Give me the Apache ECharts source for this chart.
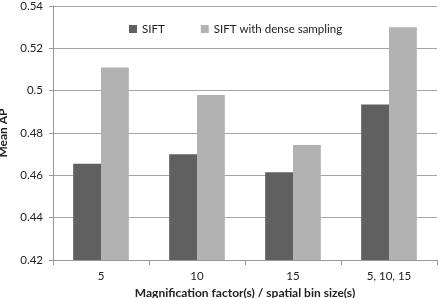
<!DOCTYPE html>
<html>
<head>
<meta charset="utf-8">
<script src="https://cdn.jsdelivr.net/npm/echarts@6/dist/echarts.min.js"></script>
<style>
  html, body { margin: 0; padding: 0; background: #fff; }
  #chart { width: 444px; height: 298px; }
</style>
</head>
<body>
<div id="chart"></div>
<script>
// values
const categories = ['5', '10', '15', '5, 10, 15']
const siftValues = [0.4655, 0.470, 0.4615, 0.4935]
const denseValues = [0.511, 0.498, 0.4743, 0.530]
const yTicks = [0.42, 0.44, 0.46, 0.48, 0.5, 0.52, 0.54]

const font = 'Lato, "Open Sans", sans-serif'
const chart = echarts.init(document.getElementById('chart'))

chart.setOption({
  animation: false,
  textStyle: { fontFamily: font },
  legend: {
    top: 18,
    left: 124,
    itemWidth: 8,
    itemHeight: 8,
    itemGap: 36,
    icon: 'rect',
    textStyle: { fontSize: 11.5, color: '#222', fontFamily: font },
    data: ['SIFT', 'SIFT with dense sampling']
  },
  grid: { left: 53, right: 7, top: 6, bottom: 38, outerBoundsMode: 'none', containLabel: false },
  xAxis: {
    type: 'category',
    data: categories,
    name: 'Magnification factor(s) / spatial bin size(s)',
    nameLocation: 'middle',
    nameGap: 27,
    nameTextStyle: { fontWeight: 'bold', fontSize: 12, color: '#222' },
    axisLine: { lineStyle: { color: '#999' } },
    axisTick: { show: true, length: 5, lineStyle: { color: '#999' } },
    axisLabel: { fontSize: 11.5, color: '#222', margin: 10 }
  },
  yAxis: {
    type: 'value',
    min: yTicks[0],
    max: yTicks[yTicks.length - 1],
    interval: 0.02,
    name: 'Mean AP',
    nameLocation: 'middle',
    nameGap: 44,
    nameTextStyle: { fontWeight: 'bold', fontSize: 12, color: '#222' },
    axisLine: { show: true, lineStyle: { color: '#999' } },
    axisTick: { show: true, length: 4, inside: false, lineStyle: { color: '#999' } },
    axisLabel: { fontSize: 11.5, color: '#222', margin: 10, formatter: v => String(+v.toFixed(2)) },
    splitLine: { lineStyle: { color: '#a6a6a6' } }
  },
  series: [
    {
      name: 'SIFT',
      type: 'bar',
      data: siftValues,
      barGap: '0%',
      barCategoryGap: '42%',
      itemStyle: { color: '#606060' }
    },
    {
      name: 'SIFT with dense sampling',
      type: 'bar',
      data: denseValues,
      itemStyle: { color: '#b2b2b2' }
    }
  ]
})
</script>
</body>
</html>
